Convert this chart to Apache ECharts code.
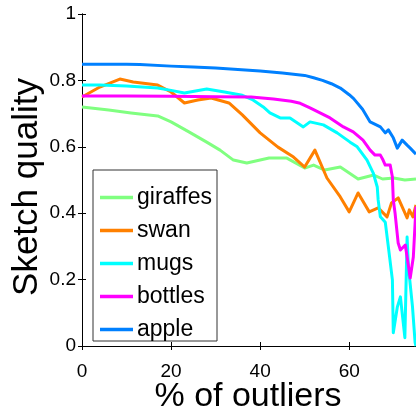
<!DOCTYPE html>
<html>
<head>
<meta charset="utf-8">
<script src="https://cdn.jsdelivr.net/npm/echarts@6/dist/echarts.min.js"></script>
<style>html,body{margin:0;padding:0;background:#fff}#c{width:416px;height:416px}</style>
</head>
<body>
<div id="c"></div>
<script>
var seriesNames = ['giraffes', 'swan', 'mugs', 'bottles', 'apple'];
var seriesColors = ['#80ff80', '#ff8000', '#00ffff', '#ff00ff', '#0080ff'];
var xTicks = [0, 20, 40, 60];
var yTicks = [0, 0.2, 0.4, 0.6, 0.8, 1];

var giraffes = [[0,0.720],[6,0.711],[11,0.702],[17,0.693],[20,0.675],[24,0.645],[28,0.614],[31,0.590],[34,0.560],[37,0.551],[42,0.566],[46,0.566],[50,0.536],[52,0.545],[54.5,0.530],[58,0.539],[62,0.503],[65.5,0.515],[67.5,0.503],[70,0.506],[72.5,0.500],[75,0.503]];
var swan = [[0,0.750],[4,0.780],[8.5,0.804],[11.5,0.795],[17,0.786],[20,0.765],[23,0.732],[26,0.741],[29,0.747],[33,0.732],[36,0.696],[40,0.642],[44,0.599],[47.5,0.569],[50,0.539],[52.3,0.590],[55,0.506],[58,0.449],[60,0.404],[62,0.461],[64.5,0.404],[66.5,0.416],[68.5,0.389],[69.5,0.431],[71,0.446],[72,0.416],[73,0.386],[73.5,0.410],[74.3,0.389],[75,0.425]];
var mugs = [[0,0.786],[4,0.786],[10,0.783],[17,0.777],[20,0.770],[23,0.762],[28,0.774],[32,0.765],[36,0.755],[38.4,0.741],[40.7,0.720],[42.2,0.702],[44.5,0.687],[46.7,0.687],[49.7,0.660],[51.2,0.675],[54.2,0.666],[57.3,0.642],[60.2,0.614],[61.8,0.600],[64,0.560],[65.4,0.521],[66.3,0.479],[66.5,0.440],[67,0.389],[68.1,0.373],[68.8,0.298],[69.7,0.199],[69.9,0.040],[70.8,0.117],[71.5,0.148],[72.5,0.025],[73,0.328],[73.3,0.238],[74.2,0.120],[74.8,0.010],[75,0.0]];
var bottles = [[0,0.753],[10,0.753],[20,0.752],[30,0.751],[38,0.750],[43,0.744],[47,0.737],[49,0.731],[51.2,0.717],[55.7,0.687],[58.7,0.660],[60.9,0.645],[63.1,0.620],[64.7,0.590],[65.8,0.575],[67,0.575],[67.6,0.560],[68.1,0.545],[69.2,0.545],[69.7,0.509],[69.9,0.44],[70.3,0.40],[71,0.31],[71.5,0.289],[72.6,0.304],[73.7,0.205],[74.4,0.268],[74.8,0.37],[75,0.42]];
var apple = [[0,0.849],[5,0.849],[10,0.849],[13,0.848],[20,0.843],[25,0.840],[30,0.837],[35,0.833],[40,0.828],[45,0.822],[50,0.815],[52,0.808],[54,0.800],[56,0.790],[58,0.777],[60,0.757],[61,0.745],[63,0.713],[64.7,0.675],[67,0.660],[68.1,0.642],[68.8,0.651],[69.9,0.627],[70.8,0.596],[71.9,0.620],[73,0.605],[73.7,0.596],[75,0.578]];

var allData = [giraffes, swan, mugs, bottles, apple];
var FONT = 'Liberation Sans, Arial, Helvetica, sans-serif';

var chart = echarts.init(document.getElementById('c'), null, {renderer: 'canvas'});
var axisCommon = {
  axisLine: {show: true, lineStyle: {color: '#000', width: 1}},
  axisTick: {show: true, inside: true, length: 4, lineStyle: {color: '#000'}},
  splitLine: {show: false}
};
chart.setOption({
  animation: false,
  backgroundColor: '#fff',
  grid: {left: 82, top: 14, width: 334, height: 332},
  xAxis: [
    Object.assign({type: 'value', min: 0, max: 75, interval: 20, position: 'bottom',
      axisLabel: {show: true, color: '#000', fontSize: 19, fontFamily: FONT, margin: 16, showMaxLabel: false, hideOverlap: false,
        formatter: function (v) { return xTicks.indexOf(v) >= 0 ? String(v) : ''; }}}, axisCommon),
    Object.assign({type: 'value', min: 0, max: 75, interval: 20, position: 'top',
      axisLabel: {show: false}}, axisCommon)
  ],
  yAxis: [
    Object.assign({type: 'value', min: 0, max: 1, interval: 0.2, position: 'left',
      axisLabel: {show: true, color: '#000', fontSize: 19, fontFamily: FONT, margin: 6,
        formatter: function (v) { return String(Math.round(v * 10) / 10); }}}, axisCommon),
    Object.assign({type: 'value', min: 0, max: 1, interval: 0.2, position: 'right',
      axisLabel: {show: false}}, axisCommon)
  ],
  legend: {
    orient: 'vertical',
    left: 93, top: 170,
    width: 125,
    padding: [16, 5, 0, 7],
    itemGap: 10,
    itemWidth: 33, itemHeight: 3.5,
    icon: 'rect',
    backgroundColor: '#fff',
    borderColor: '#333', borderWidth: 1,
    textStyle: {fontSize: 23, fontFamily: FONT, color: '#000', lineHeight: 23, padding: [0,0,0,-1]},
    data: seriesNames
  },
  graphic: [
    {type: 'text', x: 27, y: 187, rotation: Math.PI / 2,
      style: {text: 'Sketch quality', font: '35px ' + FONT, fill: '#000', align: 'center', verticalAlign: 'middle'}},
    {type: 'text', x: 248, y: 397,
      style: {text: '% of outliers', font: '34px ' + FONT, fill: '#000', align: 'center', verticalAlign: 'middle'}}
  ],
  series: seriesNames.map(function (n, i) {
    return {
      name: n, type: 'line', data: allData[i], showSymbol: false, symbol: 'none',
      lineStyle: {color: seriesColors[i], width: 3, join: 'round'},
      itemStyle: {color: seriesColors[i]},
      clip: true, z: 2 + i
    };
  })
});
</script>
</body>
</html>
